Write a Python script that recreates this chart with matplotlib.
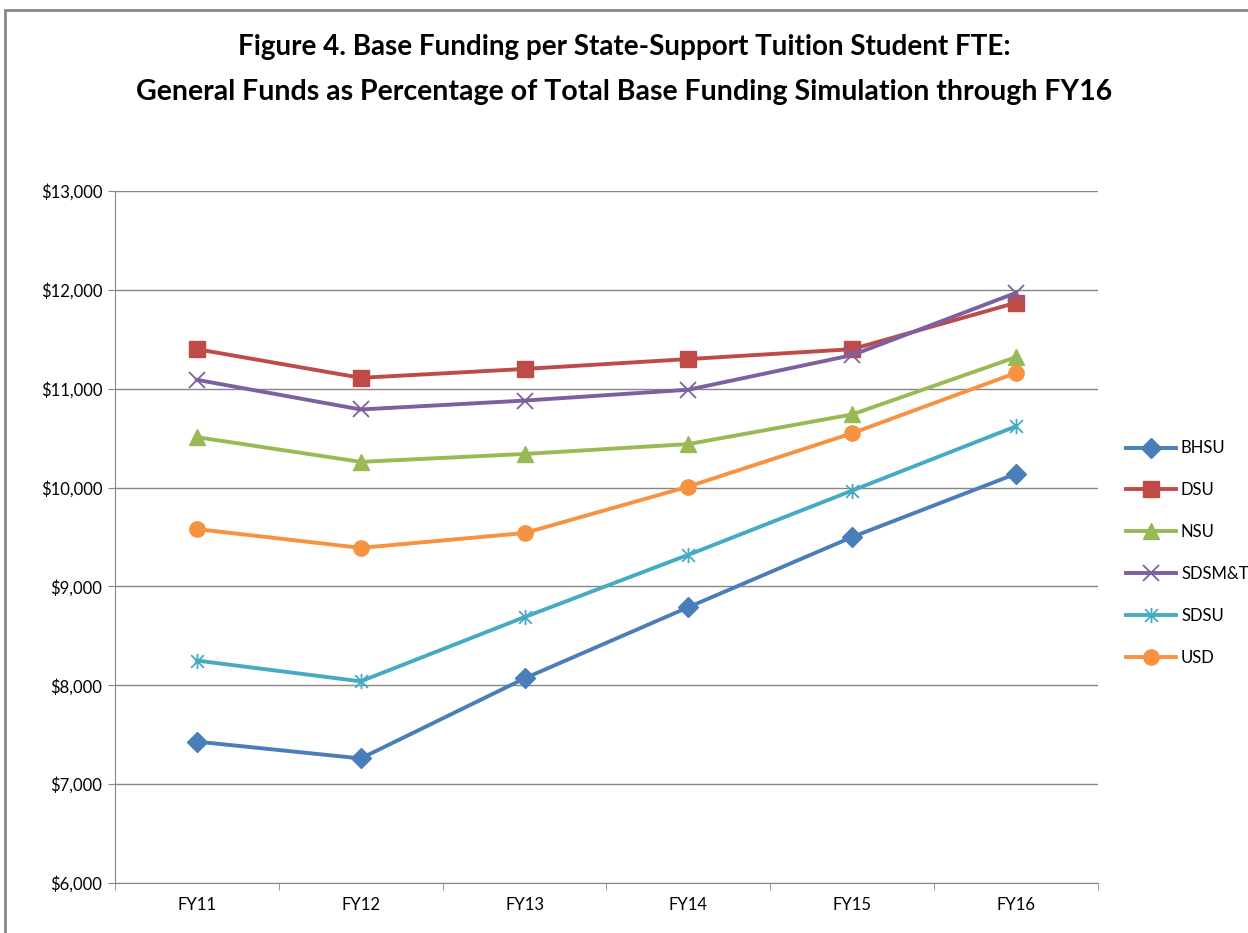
import matplotlib
matplotlib.use("Agg")
import matplotlib.pyplot as plt
from matplotlib.path import Path
from matplotlib.patches import Rectangle
from matplotlib.ticker import FuncFormatter, MultipleLocator, FixedLocator

plt.rcParams['font.family'] = ['Lato', 'DejaVu Sans']

years = ["FY11", "FY12", "FY13", "FY14", "FY15", "FY16"]
bhsu = [7430, 7260, 8070, 8790, 9500, 10140]
dsu = [11400, 11110, 11200, 11300, 11400, 11870]
nsu = [10510, 10260, 10340, 10440, 10740, 11320]
sdsmt = [11090, 10790, 10880, 10990, 11340, 11970]
sdsu = [8250, 8040, 8690, 9320, 9970, 10620]
usd = [9580, 9390, 9540, 10010, 10550, 11160]

# asterisk marker like the excel "star"
star = Path([(-1, -1), (1, 1), (-1, 1), (1, -1), (0, -1.2), (0, 1.2)],
            [Path.MOVETO, Path.LINETO, Path.MOVETO, Path.LINETO, Path.MOVETO, Path.LINETO])

series = [
    ("BHSU", bhsu, "#4A7EBB", "D", 10),
    ("DSU", dsu, "#BE4B48", "s", 11),
    ("NSU", nsu, "#98B954", "^", 12),
    ("SDSM&T", sdsmt, "#7D60A0", "x", 11),
    ("SDSU", sdsu, "#46AAC5", star, 11),
    ("USD", usd, "#F69240", "o", 11),
]

fig = plt.figure(figsize=(12.48, 9.33), dpi=100)
ax = fig.add_axes([115 / 1248, 1 - 883 / 933, (1098 - 115) / 1248, (883 - 191) / 933])

x = list(range(len(years)))
for name, vals, col, mk, ms in series:
    hollow = mk in ("x",) or mk is star
    ax.plot(x, vals, color=col, lw=2.8, marker=mk, markersize=ms,
            markeredgewidth=1.3 if hollow else 1, markerfacecolor=col,
            markeredgecolor=col, label=name)

ax.set_xlim(-0.5, 5.5)
ax.set_ylim(6000, 13000)
ax.yaxis.set_major_locator(MultipleLocator(1000))
ax.yaxis.set_major_formatter(FuncFormatter(lambda v, p: f"${v:,.0f}"))
ax.set_xticks(x)
ax.set_xticklabels(years)
ax.xaxis.set_minor_locator(FixedLocator([i - 0.5 for i in range(7)]))
ax.tick_params(axis='x', which='major', length=0, pad=10, labelsize=12)
ax.tick_params(axis='x', which='minor', length=5, color='#868686')
ax.tick_params(axis='y', length=5, color='#868686', labelsize=12, pad=4)

ax.grid(axis='y', color='#868686', lw=1)
ax.set_axisbelow(True)
for s in ("top", "right"):
    ax.spines[s].set_visible(False)
for s in ("left", "bottom"):
    ax.spines[s].set_color('#868686')

fig.text(0.5, 1 - 47 / 933, "Figure 4. Base Funding per State-Support Tuition Student FTE:",
         ha='center', va='center', fontsize=20, fontweight='bold')
fig.text(0.5, 1 - 92 / 933, "General Funds as Percentage of Total Base Funding Simulation through FY16",
         ha='center', va='center', fontsize=20.5, fontweight='bold')

fig.legend(loc='center left', bbox_to_anchor=(1126 / 1248, 1 - 553 / 933), frameon=False,
           fontsize=12, handlelength=3, labelspacing=1.55, handletextpad=0.3,
           borderaxespad=0, borderpad=0)

fig.patches.append(Rectangle((5 / 1248, -0.1), 1.2, 1 - 10 / 933 + 0.1, transform=fig.transFigure,
                             fill=False, edgecolor='#868686', lw=2))

fig.savefig("out.png", dpi=100)
